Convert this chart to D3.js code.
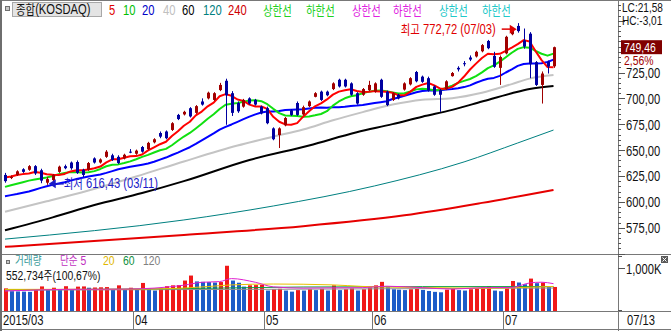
<!DOCTYPE html>
<html>
<head>
<meta charset="utf-8">
<script src="https://cdn.jsdelivr.net/npm/d3@7/dist/d3.min.js"></script>
<style>
  body { margin: 0; background: #fff; }
  svg { display: block; }
  text { white-space: pre; }
</style>
</head>
<body>
<svg id="chart" width="671" height="331"></svg>
<script>
// DATA - KOSDAQ daily, 2015/03/02 .. 2015/07/13
var year = "2015";
var dates = ["03/02","03/03","03/04","03/05","03/06","03/09","03/10","03/11","03/12","03/13","03/16","03/17","03/18","03/19","03/20","03/23","03/24","03/25","03/26","03/27","03/30","03/31",
  "04/01","04/02","04/03","04/06","04/07","04/08","04/09","04/10","04/13","04/14","04/15","04/16","04/17","04/20","04/21","04/22","04/23","04/24","04/27","04/28","04/29","04/30",
  "05/04","05/06","05/07","05/08","05/11","05/12","05/13","05/14","05/15","05/18","05/19","05/20","05/21","05/22","05/26","05/27","05/28","05/29",
  "06/01","06/02","06/03","06/04","06/05","06/08","06/09","06/10","06/11","06/12","06/15","06/16","06/17","06/18","06/19","06/22","06/23","06/24","06/25","06/26","06/29","06/30",
  "07/01","07/02","07/03","07/06","07/07","07/08","07/09","07/10","07/13"];

var opens = [626,623,626,631.5,631,634.5,630.5,618.5,621,629,
  634.5,638,638.5,631,631,642,638,643.5,645,643.5,
  642,648.5,646.5,653,651,657.5,666.5,668,669.5,684,
  684.5,690.5,686,697,700,698.5,708,717,705,695.5,
  692,700,698.5,692,690.5,671,664.5,674,688.5,695.5,
  684.5,692.5,701.5,706.5,706.5,709,718,718,714.5,705,
  703.5,708,706.5,718,706.5,698.5,703.5,708.5,713.5,725.5,
  721,719.5,711.5,708,709,721.5,729.5,734,739.5,740.5,
  745.5,755.5,741,729.5,743.5,762,770,756,762.5,735,
  713,735.5,731];
var highs = [628,625.5,630.5,632.5,635.5,635.5,632,624,627,635,
  636,639,640,632,638.5,643,642,650,646.5,645,
  646.5,651,650.5,654,658,661.5,668,669,677,685,
  688,691.5,693.5,700,706.5,706,715,719,707,697,
  699.5,701,699.5,693,692,672,672,682,689.5,697,
  693,698,706,707.5,707.5,715.5,719,719,715.5,706,
  710,717,715.5,719,707.5,706,704.5,715.5,720.5,726.5,
  722,721,712.5,709,717.5,725.5,731,736,741.5,746,
  752.5,756.5,745,741.5,760.5,769,772.72,767.5,764,736,
  726,736.5,750];
var lows = [618.5,622,625,628,630,626,618,616.43,620,628,
  631.5,631,627,624,630,637,637,642.5,639.5,636.5,
  641,647,645.5,647.5,650,656.5,661.5,660.5,668.5,679,
  683.5,681.5,685,693,699,697.5,707,674.5,683,686,
  691,694,693,684.5,675,659.5,652,673,683,683,
  683.5,691.5,701,697.5,702,708,710.5,710.5,702.5,694,
  702.5,707,705.5,700.5,692.5,697.5,699,707.5,712.5,715.5,
  715,706.5,702.5,687,708,721,726,731,736,739.5,
  744.5,747.5,729.5,713,742.5,761,763.5,748,719.5,712,
  695,724,729.5];
var closes = [620,624,629.5,629,634.5,627.5,620.5,622,626,634,
  632.5,632.5,628,626,637.5,638,641,648.5,640.5,637.5,
  645.5,648,649.5,648.5,657,660.5,663,661.5,676,680,
  687,682.5,692.5,694,705.5,705,713,703,686,687.5,
  698.5,695,694,685.5,676,660.5,671,681,684,684,
  691.5,697,705,698.5,703,714.5,711.5,711.5,703.5,695,
  709,713,714.5,701.5,693.5,705,700,714.5,719.5,716.5,
  716,707.5,703.5,703.5,716.5,724.5,728,733,737.5,745,
  751.5,748.5,730.5,740,759.5,767,765,750,733,713,
  724,730.75,749.46];
// volume, thousand shares
var volume = [520,455,450,445,440,500,565,500,535,500,
  570,500,560,565,535,540,545,550,497,590,
  500,535,497,645,515,470,515,570,590,595,
  700,815,680,670,665,655,665,1040,700,650,
  560,590,595,600,470,500,510,470,445,480,
  470,500,480,510,470,590,480,500,520,470,
  500,540,590,670,545,500,490,480,500,510,
  485,460,440,430,490,505,480,470,500,520,
  540,570,470,455,520,690,655,615,745,640,
  655,549.06,552.734];

// moving averages, one value per day
var ma5 = [623.5,624.5,626,626.8,627.4,628.9,628.2,626.7,626.1,626,
  627,629.4,630.6,630.6,631.3,632.4,634.1,638.2,641.1,641.1,
  642.6,644,644.2,645.8,649.7,652.7,655.7,658.1,663.6,668.2,
  673.5,677.4,683.6,687.2,692.3,695.9,702,704.1,702.5,698.9,
  697.6,694,692.2,692.1,689.8,682.2,677.4,674.8,674.5,676.1,
  682.3,687.5,692.3,695.2,699,703.6,706.5,707.8,708.8,707.2,
  706.1,706.4,707,706.6,706.3,705.5,702.9,702.9,706.5,711.1,
  713.3,714.8,712.6,709.4,709.4,711.1,715.2,721.1,727.9,733.6,
  739,743.1,742.6,743.1,746,749.1,752.4,756.3,754.9,745.6,
  737,730.2,730];
var ma10 = [614.5,616,617.5,619,620.5,621.5,622.5,623.5,625,626.7,
  628,628.8,628.7,628.4,628.7,629.7,631.8,634.4,635.9,636.2,
  637.5,639.1,641.2,643.5,645.4,647.7,649.9,651.2,654.7,659,
  663.1,666.6,670.9,675.4,680.3,684.7,689.7,693.9,694.9,695.6,
  696.8,698,698.2,697.3,694.4,689.9,685.7,683.5,683.3,683,
  682.3,682.5,683.6,684.9,687.6,693,697,700.1,702,703.1,
  704.9,706.5,707.4,707.7,706.8,705.8,704.7,705,706.6,708.7,
  709.4,708.9,707.8,708,710.3,712.2,715,716.9,718.7,721.5,
  725.1,729.2,731.9,735.5,739.8,744.1,747.8,749.5,749,745.8,
  743.1,741.3,743.2];
var ma20 = [605.5,606.5,607.5,608.7,610,611.7,613.5,615,616.5,617.8,
  619,620.5,622,623.3,624.5,625.5,626.5,628,629.7,631.5,
  632.7,633.9,634.9,635.9,637,638.7,640.8,642.8,645.3,647.6,
  650.3,652.8,656,659.4,662.8,666.2,669.8,672.5,674.8,677.3,
  679.9,682.3,684.5,686.4,687.3,687.3,687.7,688.7,689.1,689.3,
  689.5,690.2,690.9,691.1,691,691.4,691.4,691.8,692.7,693,
  693.6,694.5,695.5,696.3,697.2,699.4,700.8,702.5,704.3,705.9,
  707.1,707.7,707.6,707.8,708.5,709,709.8,710.9,712.6,715.1,
  717.2,719,719.8,721.7,725,728.1,731.4,733.2,733.8,733.7,
  734,735.2,737.5];
// slower averages read at a few days: [day index, value]
var ma40 = [[0,590.5],[7,600.5],[14,611],[22,624.5],[30,639],[39,654.4],[45,663],[50,669.9],[55,678.8],[60,686.7],[65,694],[70,698.7],[75,700.2],[80,705.4],[85,713.8],[88,719.1],[92,722.5]];
var ma60 = [[0,572.5],[8,585],[15,597],[23,608.5],[30,620],[41,640.5],[51,654.5],[59,667.2],[65,675.1],[70,682.3],[75,688.9],[80,696.9],[85,704.9],[88,709.1],[92,712]];
var ma120 = [[0,564],[30,582.5],[45,596],[62,615.4],[77,638.6],[86,656.9],[92,669.4]];
var ma240 = [[0,556.5],[30,568],[50,576.5],[67,587],[80,599],[92,611.5]];

var volMa5 = [[0,459],[10,497],[20,503],[25,526],[30,593],[33,660],[36,676],[38,745],[42,660],[45,555],[50,526],[55,533],[60,537],[64,570],[70,537],[75,503],[80,537],[85,541],[88,645],[90,662],[92,628]];
var volMa20 = [[0,497],[20,500],[30,526],[38,600],[45,620],[55,600],[60,565],[70,540],[80,525],[92,565]];
var volMa60 = [[0,488],[30,515],[50,552],[70,560],[92,562]];
var volMa120 = [[0,478],[46,500],[92,528]];

var priceTicks = [575, 600, 625, 650, 675, 700, 725];
var volTicks = [1000];
var maLabels = ["5", "10", "20", "40", "60", "120", "240"];
var bandLabels = ["상한선", "하한선", "상한선", "하한선", "상한선", "하한선"];
var volLabels = ["거래량", "단순 5", "20", "60", "120"];
var statLabels = ["LC:21,58", "HC:-3,01"];
var title = "종합(KOSDAQ)";

// LAYOUT
var svg = d3.select("#chart");
var W = 671, H = 331;
var axisX = 618, priceBottom = 254, volBottom = 311, stripBottom = 329;
var numFont = "'Liberation Sans','Arial',sans-serif";
var koFont = "'Noto Sans CJK KR',sans-serif";
var frame = "#787878";
var upColor = "#a00000", downColor = "#0000a0";

var x = d3.scaleLinear().domain([0, dates.length - 1]).range([5, 553.5]);
var y = d3.scaleLinear().domain([549.6, 795.07]).range([priceBottom, 0]);
var yv = d3.scaleLinear().domain([0, 1000]).range([volBottom, 267.5]);

function fmt2(v) { return v.toFixed(2).replace(".", ","); }
function cx(i) { return Math.round(x(i)); }

// the screen font is a narrow bitmap one: one text, squeezed,
// hangul runs in the CJK font and the rest in the latin font
function label(g, str, x0, y0, color, anchor, size) {
  var t = g.append("text")
    .attr("transform", "translate(" + x0 + "," + y0 + ") scale(0.8,1)")
    .attr("fill", color)
    .attr("text-anchor", anchor || "start");
  str.match(/[\uac00-\ud7a3]+|[^\uac00-\ud7a3]+/g).forEach(function(run) {
    var ko = /[\uac00-\ud7a3]/.test(run);
    t.append("tspan")
      .attr("font-family", ko ? koFont : numFont)
      .attr("font-size", ko ? (size ? size - 1 : 13) : (size || 14))
      .text(run);
  });
  return t;
}

svg.append("rect").attr("width", W).attr("height", H).attr("fill", "#fff");
var defs = svg.append("defs");
defs.append("clipPath").attr("id", "clipPrice").append("rect")
  .attr("x", 2).attr("y", 1).attr("width", axisX - 2).attr("height", priceBottom - 1);
defs.append("clipPath").attr("id", "clipVol").append("rect")
  .attr("x", 2).attr("y", priceBottom + 1).attr("width", axisX - 2).attr("height", volBottom - priceBottom - 1);

// frame
svg.append("rect").attr("x", 0).attr("y", 0).attr("width", 2).attr("height", H).attr("fill", "#6e6e6e");
[0.5, priceBottom + 0.5, volBottom + 0.5, stripBottom + 0.5].forEach(function(yy) {
  svg.append("line").attr("x1", 2).attr("x2", W).attr("y1", yy).attr("y2", yy)
    .attr("stroke", frame);
});
svg.append("line").attr("x1", axisX + 0.5).attr("x2", axisX + 0.5).attr("y1", 0).attr("y2", H)
  .attr("stroke", frame);

// price panel
var pg = svg.append("g").attr("clip-path", "url(#clipPrice)");
var idx = d3.range(dates.length);

var lineDaily = d3.line().x(function(d, i) { return x(i); }).y(function(d) { return y(d); });
var linePts = d3.line().x(function(d) { return x(d[0]); }).y(function(d) { return y(d[1]); })
  .curve(d3.curveMonotoneX);

[[ma240, "#e60000", 2], [ma120, "#008080", 1], [ma60, "#000000", 2], [ma40, "#c4c4c4", 2]]
  .forEach(function(m) {
    pg.append("path").attr("d", linePts(m[0])).attr("fill", "none")
      .attr("stroke", m[1]).attr("stroke-width", m[2]);
  });
[[ma20, "#0000ff"], [ma10, "#10e010"], [ma5, "#ff0000"]].forEach(function(m) {
  pg.append("path").attr("d", lineDaily(m[0])).attr("fill", "none")
    .attr("stroke", m[1]).attr("stroke-width", 2).attr("stroke-linejoin", "round");
});

var cg = pg.selectAll("g.candle").data(idx).join("g").attr("class", "candle")
  .attr("fill", function(i) { return closes[i] >= opens[i] ? upColor : downColor; })
  .attr("stroke", function(i) { return closes[i] >= opens[i] ? upColor : downColor; });
cg.append("line")
  .attr("x1", function(i) { return cx(i) + 0.5; })
  .attr("x2", function(i) { return cx(i) + 0.5; })
  .attr("y1", function(i) { return y(highs[i]); })
  .attr("y2", function(i) { return y(lows[i]); });
cg.append("rect")
  .attr("stroke", "none")
  .attr("x", function(i) { return cx(i) - 1; })
  .attr("width", 3)
  .attr("y", function(i) { return y(Math.max(opens[i], closes[i])); })
  .attr("height", function(i) { return Math.max(1, Math.abs(y(opens[i]) - y(closes[i]))); });

// high / low markers
var hiIdx = d3.maxIndex(highs), loIdx = d3.minIndex(lows);
function arrow(g, tipX, yy, dir, color) {
  g.append("line").attr("x1", tipX - dir * 15).attr("x2", tipX - dir * 6)
    .attr("y1", yy).attr("y2", yy).attr("stroke", color).attr("stroke-width", 1.5);
  g.append("path").attr("fill", color)
    .attr("d", "M" + tipX + "," + yy + "L" + (tipX - dir * 7) + "," + (yy - 4.5) +
      "L" + (tipX - dir * 7) + "," + (yy + 4.5) + "Z");
}
var hy = y(highs[hiIdx]) + 6;
arrow(svg, x(hiIdx) - 1, hy, 1, "#e00000");
label(svg, "최고 " + fmt2(highs[hiIdx]) + " (" + dates[hiIdx] + ")", x(hiIdx) - 22, hy + 4.5, "#e00000", "end");
var ly = y(lows[loIdx]) - 1;
arrow(svg, x(loIdx) + 2, ly, -1, "#1a1ac8");
label(svg, "최저 " + fmt2(lows[loIdx]) + " (" + dates[loIdx] + ")", x(loIdx) + 17, ly + 4.5, "#1a1ac8");

// price axis
var ag = svg.append("g").attr("stroke", "#555");
d3.range(550, 795, 5).forEach(function(v) {
  var yy = Math.round(y(v)) + 0.5;
  ag.append("line").attr("x1", axisX).attr("x2", axisX + (v % 25 === 0 ? 7 : 3))
    .attr("y1", yy).attr("y2", yy);
});
priceTicks.forEach(function(v) {
  label(svg, fmt2(v), 626, y(v) + 5.5, "#111");
});
var last = closes.length - 1;
var ylast = y(closes[last]);
svg.append("rect").attr("x", 621).attr("y", ylast - 7).attr("width", 41).attr("height", 14)
  .attr("fill", "#800000");
label(svg, fmt2(closes[last]), 624, ylast + 4.5, "#fff", "start", 13);
label(svg, fmt2((closes[last] / closes[last - 1] - 1) * 100) + "%", 624, ylast + 17.5, "#a00000", "start", 13);

// LC / HC in one text, two lines
var stat = svg.append("text")
  .attr("transform", "translate(622,11.5) scale(0.84,1)")
  .attr("fill", "#111").attr("font-family", numFont).attr("font-size", 12);
statLabels.forEach(function(s, k) {
  stat.append("tspan").attr("x", 0).attr("dy", k ? 13.5 : 0).text(s);
});

// legend
svg.append("rect").attr("x", 5.5).attr("y", 6.5).attr("width", 4).attr("height", 4)
  .attr("fill", "#c8c8c8").attr("stroke", "#707070");
svg.append("rect").attr("x", 12.5).attr("y", 2.5).attr("width", 89).attr("height", 14)
  .attr("fill", "#e4e4e4").attr("stroke", "#a8a8a8");
label(svg, title, 16, 14, "#111");
var maColors = ["#e00000", "#00c000", "#0000c8", "#c0c0c0", "#000000", "#008080", "#d00000"];
var maX = [109, 123, 142, 163, 182, 203, 228];
maLabels.forEach(function(s, k) { label(svg, s, maX[k], 15, maColors[k]); });
var bandColors = ["#20d020", "#20d020", "#e020e0", "#e020e0", "#20c8c8", "#20c8c8"];
var bandX = [263, 306, 352, 393, 439, 482];
bandLabels.forEach(function(s, k) { label(svg, s, bandX[k], 15, bandColors[k]); });

// volume panel
var vg = svg.append("g").attr("clip-path", "url(#clipVol)");
vg.selectAll("rect.vol").data(idx).join("rect").attr("class", "vol")
  .attr("x", function(i) { return cx(i) - 1; })
  .attr("width", 4)
  .attr("y", function(i) { return yv(volume[i]); })
  .attr("height", function(i) { return volBottom - yv(volume[i]); })
  .attr("fill", function(i) { return i === 0 || volume[i] >= volume[i - 1] ? "#f01818" : "#1c5cc8"; });
var lineVol = d3.line().x(function(d) { return x(d[0]); }).y(function(d) { return yv(d[1]); })
  .curve(d3.curveMonotoneX);
[[volMa120, "#909090"], [volMa60, "#10a040"], [volMa20, "#e8c000"], [volMa5, "#e020d0"]]
  .forEach(function(m) {
    vg.append("path").attr("d", lineVol(m[0])).attr("fill", "none")
      .attr("stroke", m[1]).attr("stroke-width", 1);
  });

volTicks.forEach(function(v) {
  var yy = Math.round(yv(v)) + 0.5;
  ag.append("line").attr("x1", axisX).attr("x2", axisX + 7).attr("y1", yy).attr("y2", yy);
  label(svg, d3.format(",")(v) + "K", 626, yy + 5, "#111");
});
[priceBottom + 2.5, volBottom - 0.5].forEach(function(yy) {
  ag.append("line").attr("x1", axisX).attr("x2", axisX + 4).attr("y1", yy).attr("y2", yy);
});
var closeBtn = svg.append("g").attr("transform", "translate(661,256)");
closeBtn.append("rect").attr("width", 7).attr("height", 7).attr("fill", "#5a5a5a");
closeBtn.append("path").attr("d", "M1.5,1.5L5.5,5.5M5.5,1.5L1.5,5.5").attr("stroke", "#fff");

svg.append("rect").attr("x", 6.5).attr("y", 260.5).attr("width", 3).attr("height", 3)
  .attr("fill", "#c8c8c8").attr("stroke", "#707070");
var volColors = ["#3a9a9a", "#c030c0", "#e0b800", "#109040", "#808080"];
var volX = [15, 60, 103, 123, 143];
volLabels.forEach(function(s, k) { label(svg, s, volX[k], 264.5, volColors[k], "start", 13); });
label(svg, d3.format(",")(Math.round(volume[last] * 1000)) + "주(" +
  fmt2(volume[last] / volume[last - 1] * 100) + "%)", 6, 279.5, "#111", "start", 13);

// time axis
idx.forEach(function(i) {
  var m = dates[i].slice(0, 2);
  if (i > 0 && m === dates[i - 1].slice(0, 2)) return;
  var bx = Math.round(x(i - 0.5));
  if (i > 0) {
    svg.append("line").attr("x1", bx + 0.5).attr("x2", bx + 0.5)
      .attr("y1", volBottom).attr("y2", stripBottom).attr("stroke", frame);
  }
  label(svg, i === 0 ? year + "/" + m : m, i === 0 ? 3 : bx + 2, 325, "#111");
});
label(svg, dates[last], 627, 325, "#111");
</script>
</body>
</html>
